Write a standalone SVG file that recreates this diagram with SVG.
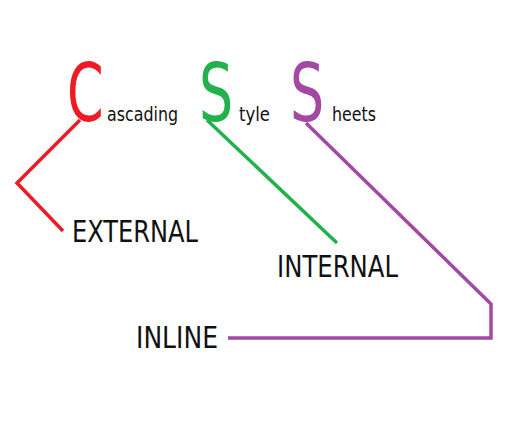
<svg xmlns="http://www.w3.org/2000/svg" width="520" height="443" viewBox="0 0 520 443">
<style>
text{font-family:"DejaVu Sans Condensed","DejaVu Sans","Liberation Sans",sans-serif;font-stretch:condensed;fill:#111}
.big{font-size:81px}
.small{font-size:20px}
.lbl{font-size:30px}
.c{fill:none;stroke-width:3.5;stroke-linejoin:miter}
</style>
<rect width="520" height="443" fill="#fff"/>
<g id="title">
<text class="big" transform="translate(67,121) scale(0.72,1)" style="fill:#ED1C24">C</text>
<text class="small" x="107" y="121" textLength="71" lengthAdjust="spacingAndGlyphs">ascading</text>
<text class="big" transform="translate(199,121) scale(0.74,1)" style="fill:#22B14C">S</text>
<text class="small" x="239" y="121" textLength="31" lengthAdjust="spacingAndGlyphs">tyle</text>
<text class="big" transform="translate(290,121) scale(0.74,1)" style="fill:#A349A4">S</text>
<text class="small" x="332" y="121" textLength="44" lengthAdjust="spacingAndGlyphs">heets</text>
</g>
<g id="connectors">
<polyline class="c" points="80,120 17,183 63,231" stroke="#ED1C24"/>
<polyline class="c" points="207,120 337,243" stroke="#22B14C"/>
<polyline class="c" points="306,123 491,304 491,338 228,338" stroke="#A349A4"/>
</g>
<g id="external"><text class="lbl" x="72" y="242" textLength="126" lengthAdjust="spacingAndGlyphs">EXTERNAL</text></g>
<g id="internal"><text class="lbl" x="277" y="277" textLength="121" lengthAdjust="spacingAndGlyphs">INTERNAL</text></g>
<g id="inline"><text class="lbl" x="136" y="348" textLength="82" lengthAdjust="spacingAndGlyphs">INLINE</text></g>
</svg>
